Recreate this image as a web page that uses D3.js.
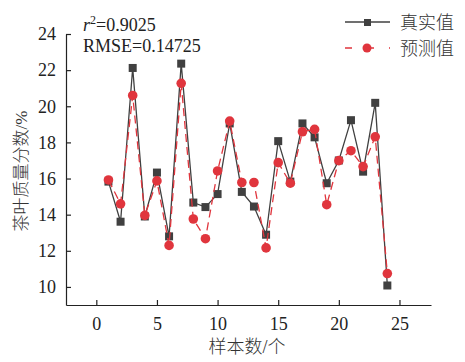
<html>
<head>
  <script src="https://d3js.org/d3.v7.min.js"></script>
  <style>
    body { margin: 0; background: #fff; }
    text { font-family: "Liberation Serif", "Noto Sans CJK SC", serif; fill: #222; }
    .cn { font-weight: 300; fill: #333; }
    .axis path, .axis line { stroke: #222; stroke-width: 1.2px; }
  </style>
</head>
<body>
  <svg id="chart" width="465" height="362"></svg>
  <script>
    // data
    const samples = d3.range(1, 25);
    const realVals = [15.83, 13.61, 22.12, 13.9, 16.33, 12.8, 22.36, 14.67, 14.42, 15.14, 19.05, 15.26,
                      14.45, 12.89, 18.07, 15.83, 19.05, 18.28, 15.74, 17.0, 19.23, 16.38, 20.19, 10.08];
    const predVals = [15.92, 14.6, 20.6, 13.96, 15.87, 12.3, 21.27, 13.76, 12.67, 16.42, 19.18, 15.78,
                      15.78, 12.16, 16.88, 15.74, 18.59, 18.72, 14.55, 16.99, 17.54, 16.66, 18.31, 10.74];
    const xTicks = [0, 5, 10, 15, 20, 25];
    const yTicks = [10, 12, 14, 16, 18, 20, 22, 24];
    const seriesNames = ["真实值", "预测值"];

    const svg = d3.select("#chart");
    const pLeft = 66, pRight = 431, pTop = 34, pBottom = 305;
    const realColor = "#404040", predColor = "#e0353d";

    const x = d3.scaleLinear().domain([-2.5, 27.6]).range([pLeft, pRight]);
    const y = d3.scaleLinear().domain([9, 24]).range([pBottom, pTop]);

    const xAxis = svg.append("g").attr("class", "axis")
      .attr("transform", "translate(0," + pBottom + ")")
      .call(d3.axisBottom(x).tickValues(xTicks).tickSizeInner(-5).tickSizeOuter(0).tickPadding(12));
    xAxis.selectAll("text").style("font-size", "18px").attr("fill", "#222");

    const yAxis = svg.append("g").attr("class", "axis")
      .attr("transform", "translate(" + pLeft + ",0)")
      .call(d3.axisLeft(y).tickValues(yTicks).tickSizeInner(-5).tickSizeOuter(0).tickPadding(10));
    yAxis.selectAll("text").style("font-size", "18px").attr("fill", "#222");

    // axis titles
    svg.append("text").attr("class", "cn").attr("x", 247).attr("y", 353).attr("text-anchor", "middle")
      .style("font-size", "18px").text("样本数/个");
    svg.append("text").attr("class", "cn").attr("transform", "translate(27,171) rotate(-90)")
      .attr("text-anchor", "middle").style("font-size", "17px").text("茶叶质量分数/%");

    const line = d3.line().x((d, i) => x(samples[i])).y(d => y(d));

    // real
    svg.append("path").datum(realVals).attr("d", line)
      .attr("fill", "none").attr("stroke", realColor).attr("stroke-width", 1.3);
    svg.selectAll(".sq").data(realVals).enter().append("rect").attr("class", "sq")
      .attr("x", (d, i) => x(samples[i]) - 4).attr("y", d => y(d) - 4)
      .attr("width", 8).attr("height", 8).attr("fill", realColor);

    // predicted
    svg.append("path").datum(predVals).attr("d", line)
      .attr("fill", "none").attr("stroke", predColor).attr("stroke-width", 1.3)
      .attr("stroke-dasharray", "8,5");
    svg.selectAll(".dot").data(predVals).enter().append("circle").attr("class", "dot")
      .attr("cx", (d, i) => x(samples[i])).attr("cy", d => y(d)).attr("r", 4.8)
      .attr("fill", predColor);

    // stats
    const t1 = svg.append("text").attr("x", 83).attr("y", 31).style("font-size", "18px");
    t1.append("tspan").style("font-style", "italic").text("r");
    t1.append("tspan").attr("dy", -7).style("font-size", "12px").text("2");
    t1.append("tspan").attr("dy", 7).text("=0.9025");
    svg.append("text").attr("x", 83).attr("y", 52).style("font-size", "18px").text("RMSE=0.14725");

    // legend
    const lg = svg.append("g");
    lg.append("line").attr("x1", 345).attr("x2", 390).attr("y1", 22).attr("y2", 22)
      .attr("stroke", realColor).attr("stroke-width", 1.3);
    lg.append("rect").attr("x", 364).attr("y", 19).attr("width", 7).attr("height", 7).attr("fill", realColor);
    lg.append("line").attr("x1", 345).attr("x2", 390).attr("y1", 48).attr("y2", 48)
      .attr("stroke", predColor).attr("stroke-width", 1.3).attr("stroke-dasharray", "7,15");
    lg.append("circle").attr("cx", 367).attr("cy", 48).attr("r", 4.5).attr("fill", predColor);
    lg.selectAll(".lt").data(seriesNames).enter().append("text").attr("class", "lt cn")
      .attr("x", 400).attr("y", (d, i) => 29 + i * 26).style("font-size", "18px").text(d => d);
  </script>
</body>
</html>
